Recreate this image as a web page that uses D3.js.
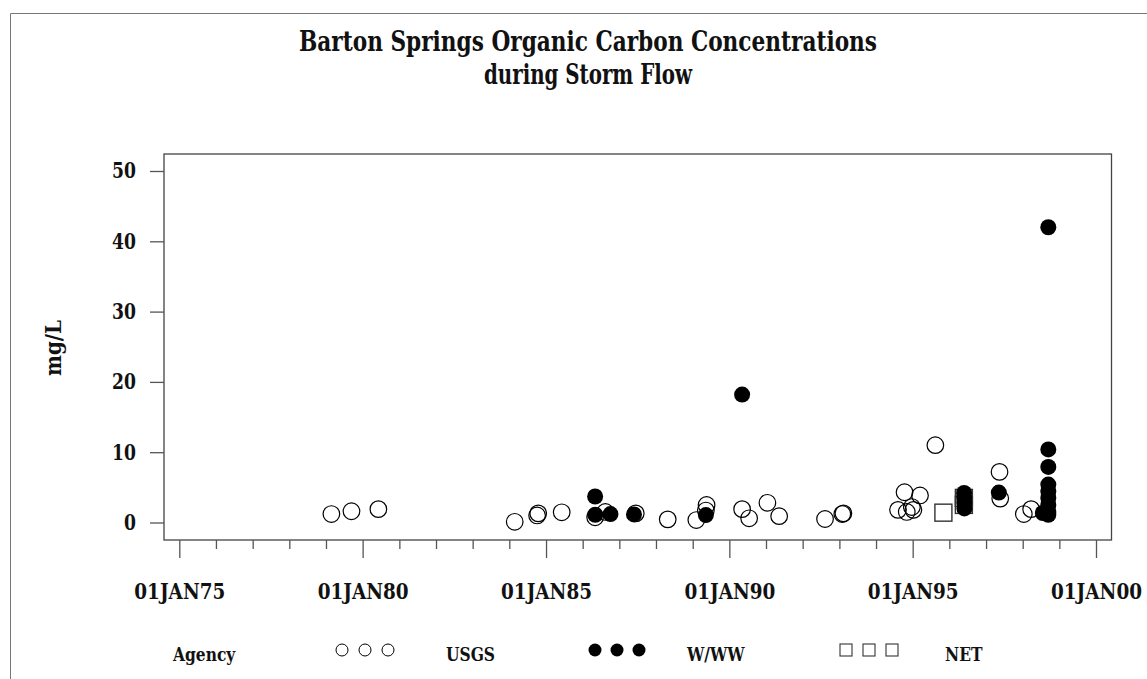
<!DOCTYPE html>
<html>
<head>
<meta charset="utf-8">
<script src="https://cdn.jsdelivr.net/npm/d3@7"></script>
<style>
  body { margin: 0; background: #fff; }
  svg text { font-family: "DejaVu Serif", serif; }
</style>
</head>
<body>
<svg id="chart" width="1147" height="679"></svg>
<script>
// title lines
var titleLines = ["Barton Springs Organic Carbon Concentrations", "during Storm Flow"];
var yLabel = "mg/L";

// USGS samples (open circles)
var usgsDates = ["1979-02-24", "1979-09-12", "1980-06-06", "1984-02-24", "1984-10-04", "1984-10-15",
  "1985-06-06", "1986-05-05", "1986-08-15", "1987-06-14", "1988-04-27", "1989-02-06", "1989-05-12",
  "1989-05-19", "1990-05-08", "1990-07-17", "1991-01-15", "1991-05-12", "1992-08-11", "1993-01-30",
  "1993-02-10", "1994-08-08", "1994-10-12", "1994-11-03", "1994-12-24", "1995-01-08", "1995-03-15",
  "1995-08-15", "1997-05-15", "1997-05-22", "1998-01-12", "1998-03-26"];
var usgsValues = [1.2, 1.6, 1.9, 0.1, 1.0, 1.3,
  1.45, 0.75, 1.5, 1.3, 0.45, 0.35, 1.7,
  2.5, 1.9, 0.6, 2.8, 0.9, 0.5, 1.2,
  1.3, 1.8, 4.3, 1.5, 2.2, 1.8, 3.85,
  11.0, 7.2, 3.4, 1.2, 1.9];

// W/WW samples (filled circles)
var wwwDates = ["1986-05-05", "1986-05-06", "1986-10-05", "1987-05-27", "1989-05-12", "1990-05-08",
  "1996-05-27", "1996-05-28", "1996-05-29", "1996-05-30", "1997-05-08", "1998-07-20",
  "1998-09-13", "1998-09-13", "1998-09-13", "1998-09-13", "1998-09-13", "1998-09-13",
  "1998-09-13", "1998-09-13", "1998-09-13"];
var wwwValues = [3.7, 1.1, 1.2, 1.15, 1.05, 18.2,
  4.2, 3.5, 2.8, 2.0, 4.25, 1.35,
  42.0, 10.4, 7.9, 5.4, 4.4, 3.5,
  2.5, 1.5, 1.1];

// NET samples (squares)
var netDates = ["1995-11-03", "1996-05-25", "1996-05-25"];
var netValues = [1.4, 3.5, 2.5];

var yTicks = [0, 10, 20, 30, 40, 50];
var xTickYears = [1975, 1980, 1985, 1990, 1995, 2000];

var legendItems = ["USGS", "W/WW", "NET"];

var parse = d3.timeParse("%Y-%m-%d");
function toPoints(dates, values) {
  return dates.map(function(d, i) { return {date: parse(d), value: values[i]}; });
}
var usgs = toPoints(usgsDates, usgsValues);
var www = toPoints(wwwDates, wwwValues);
var net = toPoints(netDates, netValues);

var svg = d3.select("#chart");
var box = {left: 164, right: 1111.5, top: 154, bottom: 540};
var narrow = 0.86;     // squeeze DejaVu Serif horizontally, the original face is condensed
var narrowTick = 0.8;

var x = d3.scaleTime()
  .domain([new Date(1975, 0, 1), new Date(2000, 0, 1)])
  .range([179.3, 1096]);
var y = d3.scaleLinear().domain([0, 50]).range([522.5, 171]);

// outer frame (only top and left visible)
svg.append("path")
  .attr("d", "M10.5,679 V13.5 H1147")
  .attr("fill", "none").attr("stroke", "#777").attr("stroke-width", 1);

// title
svg.selectAll("text.title").data(titleLines).enter().append("text")
  .attr("class", "title")
  .attr("x", 588)
  .attr("y", function(d, i) { return 51 + i * 33; })
  .attr("text-anchor", "middle")
  .attr("font-size", 27)
  .attr("font-weight", "bold")
  .attr("textLength", function(d, i) { return i === 0 ? 578 : 208; })
  .attr("lengthAdjust", "spacingAndGlyphs")
  .attr("fill", "#111")
  .text(function(d) { return d; });

// plot box
svg.append("rect")
  .attr("x", box.left).attr("y", box.top)
  .attr("width", box.right - box.left).attr("height", box.bottom - box.top)
  .attr("fill", "none").attr("stroke", "#444").attr("stroke-width", 1.3);

// y axis
var yAxis = d3.axisLeft(y).tickValues(yTicks).tickSize(14).tickPadding(0).tickSizeOuter(0);
var gy = svg.append("g").attr("transform", "translate(" + box.left + ",0)").call(yAxis);
gy.select(".domain").remove();
gy.selectAll(".tick line").attr("stroke", "#555").attr("stroke-width", 1.3);
gy.selectAll(".tick text")
  .attr("x", -28 / narrowTick)
  .attr("transform", "scale(" + narrowTick + ",1)")
  .attr("font-size", 21.5).attr("font-weight", "bold").attr("fill", "#111");

// x axis: minor ticks yearly, major every 5 years
var minorYears = d3.range(1975, 2001).filter(function(v) { return v % 5 !== 0; });
var xMinor = d3.axisBottom(x)
  .tickValues(minorYears.map(function(v) { return new Date(v, 0, 1); }))
  .tickSize(9).tickFormat("").tickSizeOuter(0);
var gxm = svg.append("g").attr("transform", "translate(0," + box.bottom + ")").call(xMinor);
gxm.select(".domain").remove();

var fmt = d3.timeFormat("%y");
var xMajor = d3.axisBottom(x)
  .tickValues(xTickYears.map(function(v) { return new Date(v, 0, 1); }))
  .tickSize(18).tickPadding(25).tickSizeOuter(0)
  .tickFormat(function(d) { return "01JAN" + fmt(d); });
var gx = svg.append("g").attr("transform", "translate(0," + box.bottom + ")").call(xMajor);
gx.select(".domain").remove();
svg.selectAll(".tick line").attr("stroke", "#555").attr("stroke-width", 1.3);
gx.selectAll(".tick text")
  .attr("transform", "scale(" + narrowTick + ",1)")
  .attr("font-size", 23).attr("font-weight", "bold").attr("fill", "#111");

// y label
svg.append("text")
  .attr("transform", "translate(61,348) rotate(-90) scale(" + narrow + ",1)")
  .attr("text-anchor", "middle")
  .attr("font-size", 23).attr("font-weight", "bold").attr("fill", "#111")
  .text(yLabel);

// marks
var marks = svg.append("g");
marks.selectAll("rect.net").data(net).enter().append("rect")
  .attr("class", "net")
  .attr("x", function(d) { return x(d.date) - 8.5; })
  .attr("y", function(d) { return y(d.value) - 8.5; })
  .attr("width", 17).attr("height", 17)
  .attr("fill", "none").attr("stroke", "#333").attr("stroke-width", 1.4);

marks.selectAll("circle.usgs").data(usgs).enter().append("circle")
  .attr("class", "usgs")
  .attr("cx", function(d) { return x(d.date); })
  .attr("cy", function(d) { return y(d.value); })
  .attr("r", 8.3)
  .attr("fill", "none").attr("stroke", "#000").attr("stroke-width", 1.2);

marks.selectAll("circle.www").data(www).enter().append("circle")
  .attr("class", "www")
  .attr("cx", function(d) { return x(d.date); })
  .attr("cy", function(d) { return y(d.value); })
  .attr("r", 8)
  .attr("fill", "#000");

// legend
var legend = svg.append("g").attr("font-weight", "bold").attr("font-size", 18).attr("fill", "#111");
function legendText(x0, s) {
  legend.append("text")
    .attr("transform", "translate(" + x0 + ",661) scale(" + narrow + ",1)")
    .text(s);
}
legendText(173, "Agency");
var legendSymX = [[342, 365, 388], [595, 617, 639], [846, 869, 892]];
var legendTextX = [446, 687, 945];
legendItems.forEach(function(name, i) {
  legendSymX[i].forEach(function(cx) {
    if (i === 2) {
      legend.append("rect").attr("x", cx - 6).attr("y", 644).attr("width", 12).attr("height", 12)
        .attr("fill", "none").attr("stroke", "#333").attr("stroke-width", 1.1);
    } else {
      legend.append("circle").attr("cx", cx).attr("cy", 650).attr("r", i === 1 ? 6.5 : 6)
        .attr("fill", i === 1 ? "#000" : "none")
        .attr("stroke", "#000").attr("stroke-width", i === 1 ? 0 : 1);
    }
  });
  legendText(legendTextX[i], name);
});
</script>
</body>
</html>
